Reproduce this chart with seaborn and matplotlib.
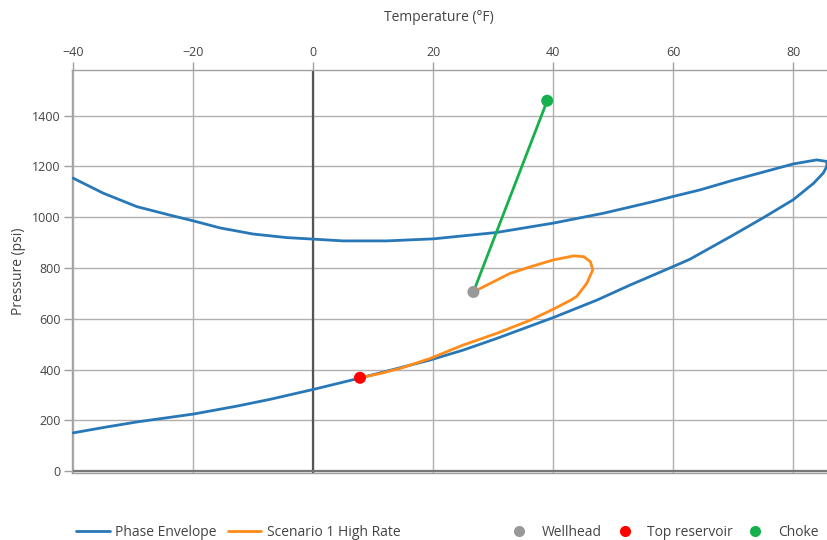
import matplotlib
matplotlib.use("Agg")
import matplotlib.pyplot as plt
import seaborn as sns
import pandas as pd
from matplotlib.lines import Line2D

# ---- data ----
env_T = [-40, -35, -29.4, -20, -12.8, -7.2, 0, 7.8, 19.5, 25, 30.6, 40, 47.3, 52.8, 60, 62.8,
         70, 75, 80, 83.4, 85, 85.6,
         85.6, 83.9, 80, 70, 64.5, 60, 56.7, 48.4, 40, 30.5, 20, 12.2, 5, 0, -4.4, -10,
         -15.5, -20, -23.8, -29.4, -35, -40]
env_P = [151, 172, 194, 225, 256, 283, 322, 367, 438, 477, 523, 605, 674, 733, 806, 835,
         930, 998, 1069, 1134, 1174, 1200,
         1220, 1226, 1210, 1146, 1108, 1082, 1062, 1016, 977, 940, 915, 907, 907, 914, 920, 934,
         958, 986, 1008, 1042, 1095, 1154]

sc_T = [7.8, 11.2, 14.5, 19.5, 25, 30.6, 36.2, 40, 42.8, 43.9, 45.6, 46.6, 46.2, 45.1, 43.4,
        40, 36.2, 32.8, 26.7]
sc_P = [368, 385, 405, 444, 497, 543, 595, 638, 672, 688, 740, 793, 825, 845, 848,
        832, 805, 779, 706]

pt_names = ["Wellhead", "Top reservoir", "Choke"]
pt_T = [26.7, 7.8, 39.0]
pt_P = [706, 368, 1459]

choke_T = [26.7, 39.0]
choke_P = [706, 1459]

x_ticks = [-40, -20, 0, 20, 40, 60, 80]
y_ticks = [0, 200, 400, 600, 800, 1000, 1200, 1400]

# ---- style ----
sns.set_style("white")
plt.rcParams["font.family"] = ["Open Sans", "DejaVu Sans"]

BLUE = "#2878b8"
ORANGE = "#ff8c1a"
GREEN = "#16b04d"
GRAY = "#999999"
RED = "#ff0000"
TXT = "#444444"

fig = plt.figure(figsize=(8.28, 5.4), dpi=100)
ax = fig.add_axes([72 / 828, 1 - 473 / 540, (828 - 72) / 828, (473 - 70) / 540])

env_df = pd.DataFrame({"T": env_T, "P": env_P})
sc_df = pd.DataFrame({"T": sc_T, "P": sc_P})
ch_df = pd.DataFrame({"T": choke_T, "P": choke_P})
pt_df = pd.DataFrame({"T": pt_T, "P": pt_P, "name": pt_names})

sns.lineplot(data=env_df, x="T", y="P", sort=False, estimator=None, ax=ax,
             color=BLUE, linewidth=2, zorder=3)
sns.lineplot(data=sc_df, x="T", y="P", sort=False, estimator=None, ax=ax,
             color=ORANGE, linewidth=2, zorder=4)
sns.lineplot(data=ch_df, x="T", y="P", sort=False, estimator=None, ax=ax,
             color=GREEN, linewidth=2, zorder=4)
sns.scatterplot(data=pt_df, x="T", y="P", hue="name",
                palette={"Wellhead": GRAY, "Top reservoir": RED, "Choke": GREEN},
                s=75, edgecolor="none", ax=ax, zorder=5, legend=False)

ax.set_xlim(-40.2, 85.8)
ax.set_ylim(-7, 1580)
ax.set_xticks(x_ticks)
ax.set_yticks(y_ticks)
ax.set_xticklabels([f"{v}".replace("-", "\u2212") for v in x_ticks])
ax.xaxis.tick_top()
ax.xaxis.set_label_position("top")
ax.grid(True, color="#b0b0b0", linewidth=1)
ax.axvline(0, color="#555555", linewidth=1.6, zorder=2)
ax.axhline(0, color="#777777", linewidth=1.6, zorder=2)

for s in ax.spines.values():
    s.set_color("#a0a0a0")
    s.set_linewidth(1)
ax.spines["right"].set_visible(False)

ax.tick_params(axis="both", which="both", length=6, width=1, color="#a0a0a0",
               labelsize=9, labelcolor=TXT)
ax.tick_params(axis="x", top=True, bottom=False, pad=2)
ax.tick_params(axis="y", left=True, pad=2)

ax.set_xlabel("Temperature (°F)", fontsize=10, color=TXT)
ax.xaxis.set_label_coords((439 - 72) / 756, 1 + (70 - 21) / 403)
ax.set_ylabel("Pressure (psi)", fontsize=10, color=TXT)
ax.yaxis.set_label_coords(-(72 - 26) / 756, 0.5)

# legends
h1 = [Line2D([0], [0], color=BLUE, lw=2), Line2D([0], [0], color=ORANGE, lw=2)]
fig.legend(h1, ["Phase Envelope", "Scenario 1 High Rate"], loc="center left",
           bbox_to_anchor=(64 / 828, 1 - 532 / 540), ncol=2, frameon=False,
           fontsize=10, handlelength=2.4, columnspacing=0.8, handletextpad=0.4,
           labelcolor=TXT)
h2 = [Line2D([0], [0], marker="o", color="none", markerfacecolor=c, markeredgecolor="none",
             markersize=8) for c in [GRAY, RED, GREEN]]
fig.legend(h2, pt_names, loc="center left",
           bbox_to_anchor=(500 / 828, 1 - 532 / 540), ncol=3, frameon=False,
           fontsize=10, handlelength=1.0, columnspacing=1.15, handletextpad=1.1,
           labelcolor=TXT)

fig.savefig("out.png", dpi=100)
